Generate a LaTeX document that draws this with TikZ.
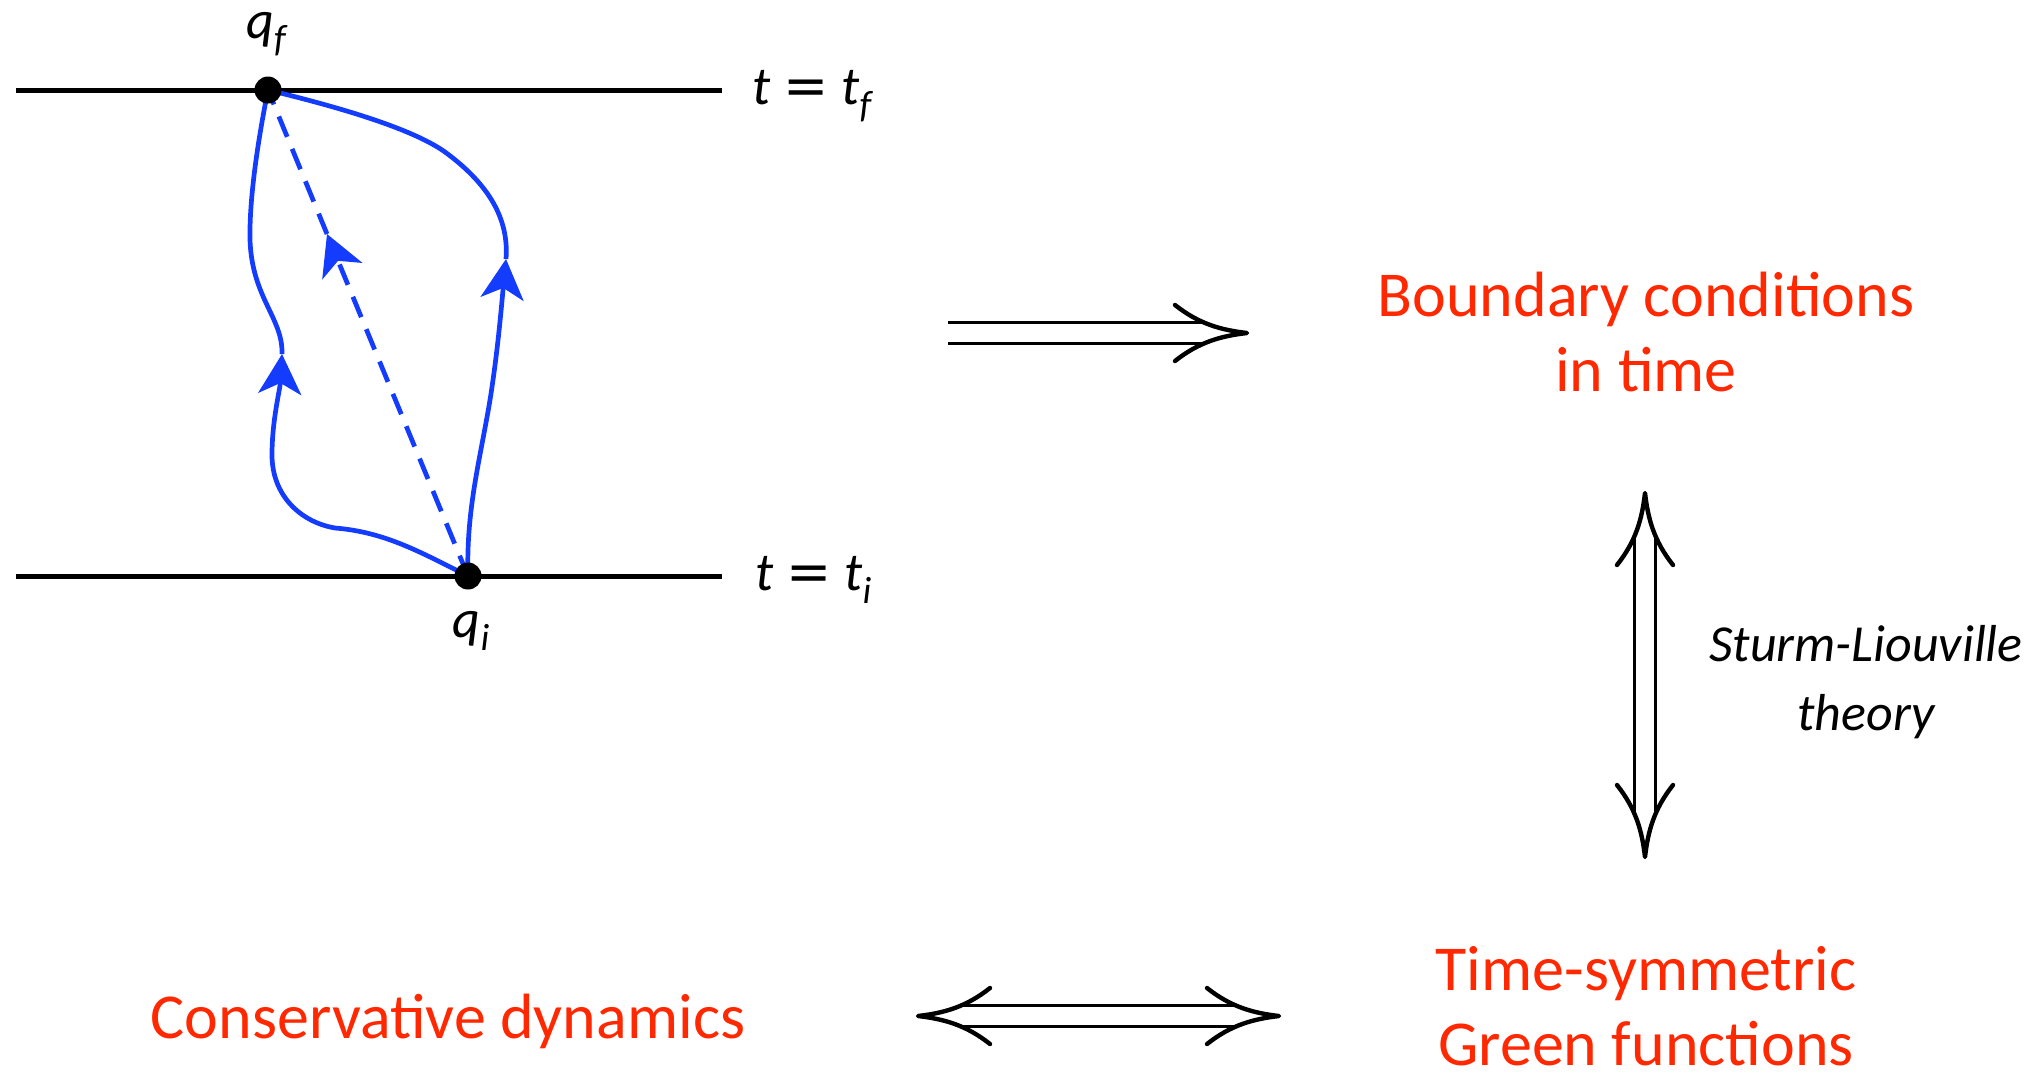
\documentclass[tikz,border=0pt]{standalone}
\usepackage{fontspec}
\setmainfont{Carlito}
\newfontfamily\eqfont{DejaVu Sans}
\usetikzlibrary{arrows.meta}
\definecolor{pathblue}{RGB}{20,60,255}
\definecolor{titlered}{RGB}{255,40,0}
\pgfdeclarelayer{background}
\pgfsetlayers{background,main}
\newcommand\lbsub[1]{\raisebox{-0.25em}{\fontsize{38}{38}\selectfont\itshape #1}}
\newcommand\lbeq{\hspace{13pt}{\eqfont =}\hspace{13pt}}
\tikzset{
  timeline/.style={line width=5pt},
  event/.style={circle,fill=black,inner sep=0pt,minimum size=27pt},
  wpath/.style={pathblue,line width=4.7pt},
  wtip/.style={-{Stealth[length=40pt,width=43pt,inset=11pt]}},
  wdash/.style={dash pattern=on 22pt off 13pt},
  lab/.style={font=\fontsize{54}{60}\selectfont,inner sep=0pt},
  title/.style={text=titlered,font=\fontsize{64}{75}\selectfont,align=center,inner sep=0pt},
  note/.style={font=\fontsize{52}{69}\selectfont\itshape,align=center,inner sep=0pt},
  dblline/.style={double,double distance=17.5pt,line width=3.5pt},
  cmhead/.pic={\draw[line width=4.4pt,line cap=round,line join=round]
     (-72,-28) .. controls (-48,-9) and (-26,-3) .. (0,0)
     .. controls (-26,3) and (-48,9) .. (-72,28);}
}
\begin{document}
\begin{tikzpicture}[x=1pt,y=-1pt]
\useasboundingbox (0,0) rectangle (2036,1080);

% events
\node[event] (qf) at (268,90) {};
\node[event] (qi) at (468,576) {};
\node[lab,anchor=base] (qflab) at (266,38) {\itshape q\lbsub{f}};
\node[lab,anchor=base] (qilab) at (471,637) {\itshape q\lbsub{i}};

% time lines
\coordinate (tfL) at (16,90);  \coordinate (tfR) at (722,90);
\coordinate (tiL) at (16,576); \coordinate (tiR) at (722,576);
\node[lab,anchor=base west] (tflab) at (752,104) {\itshape t\lbeq t\lbsub{f}};
\node[lab,anchor=base west] (tilab) at (755,590) {\itshape t\lbeq t\lbsub{i}};

% arrow-head positions on the paths
\coordinate (la) at (282,354);
\coordinate (ra) at (506,259);
\coordinate (da) at (327,234);

\begin{pgfonlayer}{background}
\draw[timeline] (tfL) -- (tfR);
\draw[timeline] (tiL) -- (tiR);
% left path
\draw[wpath,wtip] (qi.center) .. controls (420,552) and (385,532) .. (335,528)
   .. controls (300,522) and (272,495) .. (272,455)
   .. controls (272,420) and (280,390) .. (la);
\draw[wpath] (la) .. controls (283,318) and (252,298) .. (250,240)
   .. controls (249,190) and (262,120) .. (qf.center);
% right path
\draw[wpath,wtip] (qi.center) .. controls (466,510) and (480,460) .. (490,400)
   .. controls (498,350) and (502,300) .. (ra);
\draw[wpath] (ra) .. controls (509,220) and (490,185) .. (445,152)
   .. controls (410,127) and (330,105) .. (qf.center);
% classical (dashed) path
\draw[wpath,wdash,wtip] (qi.center) -- (da);
\draw[wpath,wdash] (da) -- (qf.center);
\end{pgfonlayer}

% texts (base anchor = baseline of the last line)
\node[title,anchor=base] (bc) at (1646,391) {Boundary conditions\\in time};
\node[note,anchor=base] (sl) at (1866,730) {Sturm-Liouville\\theory};
\node[title,anchor=base] (gf) at (1646,1065) {Time-symmetric\\Green functions};
\node[title,anchor=base] (cd) at (448,1038) {Conservative dynamics};

% implication arrows
\coordinate (h1) at (948,333);  \coordinate (h2) at (1247,333);
\coordinate (v1) at (1645,493); \coordinate (v2) at (1645,857);
\coordinate (b1) at (918,1016); \coordinate (b2) at (1279,1016);
\draw[dblline,shorten >=42pt] (h1) -- (h2);
\pic at (h2) {cmhead};
\draw[dblline,shorten >=42pt,shorten <=42pt] (v1) -- (v2);
\pic[rotate=90] at (v1) {cmhead};
\pic[rotate=-90] at (v2) {cmhead};
\draw[dblline,shorten >=42pt,shorten <=42pt] (b1) -- (b2);
\pic[rotate=180] at (b1) {cmhead};
\pic at (b2) {cmhead};
\end{tikzpicture}
\end{document}
